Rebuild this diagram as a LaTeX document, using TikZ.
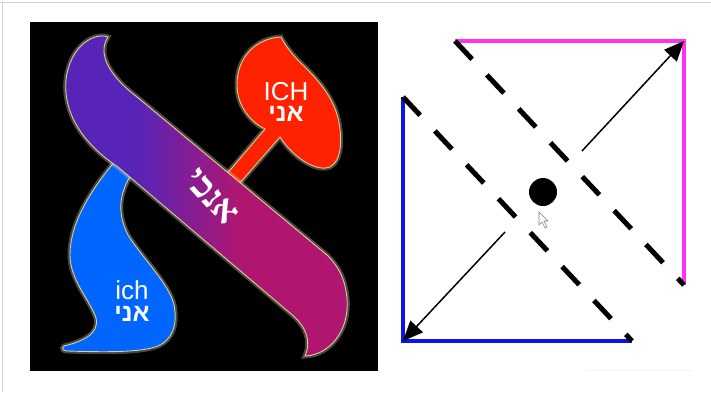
\documentclass[tikz,border=0pt]{standalone}
\usepackage{fontspec}
\setmainfont{Liberation Sans}
\newfontfamily\hebsans[Script=Hebrew]{Liberation Sans}
\newfontfamily\hebserif[Script=Hebrew]{Liberation Serif}
\TeXXeTstate=1
\usetikzlibrary{arrows.meta, positioning}

\definecolor{violeta}{RGB}{88,36,184}
\definecolor{magentaesc}{RGB}{176,22,112}
\definecolor{vermelho}{RGB}{255,34,0}
\definecolor{azulclaro}{RGB}{0,102,255}
\definecolor{brilho}{RGB}{216,207,160}
\definecolor{rosa}{RGB}{255,51,238}
\definecolor{azul}{RGB}{10,20,235}
\pgfdeclarehorizontalshading{faixa}{100bp}{color(0bp)=(violeta); color(38bp)=(violeta); color(56bp)=(magentaesc); color(100bp)=(magentaesc)}

\begin{document}
\begin{tikzpicture}[x=1pt, y=-1pt,
    forma/.style={draw=brilho, line width=0.9pt, preaction={draw=brilho, line width=5pt, opacity=.35}},
    rotulo/.style={text=white, inner sep=0pt, font=\fontsize{26}{26}\selectfont},
    rotuloheb/.style={text=white, inner sep=0pt, font=\hebsans\bfseries\fontsize{25}{25}\selectfont},
    lado/.style={line width=4pt},
    tracejado/.style={line width=5pt, dash pattern=on 25pt off 21.5pt},
    seta/.style={line width=1.5pt, -{Triangle[length=20pt, width=17pt]}}]

    \useasboundingbox (0,0) rectangle (711,392);
    \draw[gray!35] (0,2.5) -- (711,2.5);
    \draw[gray!35] (2.5,2.5) -- (2.5,392);

    % Fundo
    \fill[black] (30,22) rectangle (378,371);

    % Chama azul
    \fill[azulclaro, forma] (116,160) .. controls (95,185) and (70,220) .. (70,255)
      .. controls (70,280) and (90,300) .. (96,318)
      .. controls (100,335) and (80,342) .. (64,346)
      .. controls (61,349) and (63,351) .. (68,351)
      .. controls (100,352) and (140,353) .. (158,346)
      .. controls (172,340) and (178,325) .. (174,305)
      .. controls (170,285) and (140,255) .. (128,235)
      .. controls (118,215) and (117,195) .. (134,170) -- cycle;

    % Chama vermelha com haste
    \fill[vermelho, forma] (281,37) .. controls (258,38) and (237,55) .. (237,85)
      .. controls (237,105) and (250,122) .. (265,129)
      -- (220,182) -- (232,192) -- (280,137)
      .. controls (295,160) and (318,172) .. (330,167)
      .. controls (343,160) and (342,135) .. (338,118)
      .. controls (333,98) and (320,82) .. (305,67)
      .. controls (292,55) and (285,45) .. (281,37) -- cycle;

    % Faixa diagonal
    \shade[shading=faixa, forma] (108,37) .. controls (95,32) and (70,45) .. (66,80)
      .. controls (63,115) and (85,145) .. (118,167)
      -- (290,313)
      .. controls (305,325) and (312,340) .. (305,356)
      .. controls (330,355) and (350,330) .. (347,298)
      .. controls (345,280) and (340,268) .. (327,255)
      -- (137,97)
      .. controls (112,78) and (96,55) .. (108,37) -- cycle;

    % Textos
    \node[rotulo] (ichM) at (286,92) {ICH};
    \node[rotuloheb] (aniM) at (286,114) {\beginR אני\endR};
    \node[rotulo] (ichm) at (132,290) {ich};
    \node[rotuloheb] (anim) at (132,314) {\beginR אני\endR};
    \node[text=white, inner sep=0pt, font=\hebserif\bfseries\fontsize{36}{36}\selectfont, rotate=-48] (anochi) at (212,197) {\beginR אנכי\endR};

    % Quadrado da direita
    \coordinate (rosaE) at (455,41);
    \coordinate (rosaD) at (684,41);
    \coordinate (rosaB) at (684,285);
    \coordinate (azulT) at (403,97);
    \coordinate (azulC) at (403,341);
    \coordinate (azulD) at (632,341);
    \coordinate (inicio1) at (582,151);
    \coordinate (inicio2) at (505,232);

    \draw[rosa, lado] (rosaE) -- (rosaD) -- (rosaB);
    \draw[azul, lado] (azulT) -- (azulC) -- (azulD);
    \draw[tracejado] (rosaE) -- (rosaB);
    \draw[tracejado] (azulT) -- (azulD);
    \draw[seta] (inicio1) -- (rosaD);
    \draw[seta] (inicio2) -- (azulC);

    % Ponto central e cursor
    \fill (543,192) circle (14);
    \draw[gray, fill=white, line width=0.6pt] (539,212) -- (539,225) -- (542,222) -- (545,228) -- (547,227) -- (544,221) -- (548,221) -- cycle;
    \draw[gray!10, line width=1pt] (587,370) -- (692,370);

\end{tikzpicture}
\end{document}
